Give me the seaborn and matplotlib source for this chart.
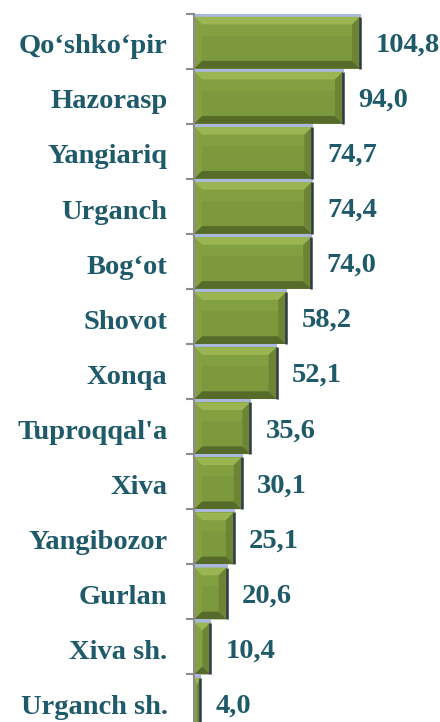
import numpy as np
import pandas as pd
import matplotlib
matplotlib.use("Agg")
import matplotlib.pyplot as plt
from matplotlib.patches import Polygon, Rectangle
from matplotlib.transforms import ScaledTranslation
import seaborn as sns

# data
districts = ["Qo‘shko‘pir", "Hazorasp", "Yangiariq", "Urganch", "Bog‘ot", "Shovot",
             "Xonqa", "Tuproqqal'a", "Xiva", "Yangibozor", "Gurlan", "Xiva sh.",
             "Urganch sh."]
values = [104.8, 94.0, 74.7, 74.4, 74.0, 58.2, 52.1, 35.6, 30.1, 25.1, 20.6, 10.4, 4.0]

df = pd.DataFrame({"district": districts, "value": values})

TEXT = "#1F5A6A"
FACE = "#7D993D"
LIGHT = "#9AB552"
BAND = "#83A041"
SIDE_L = "#84A043"
SIDE_R = "#6C8434"
DARK = "#566B2A"

sns.set_style("white")
plt.rcParams["font.family"] = ["Liberation Serif", "DejaVu Serif"]

fig = plt.figure(figsize=(4.4, 7.22), dpi=100)
ax = fig.add_axes([194 / 440, -7.5 / 722, 1 - 194 / 440, (722 - 13.5 + 7.5) / 722])

sns.barplot(data=df, y="district", x="value", orient="h", color=FACE,
            width=1.0, saturation=1, edgecolor="none", ax=ax)

ax.set_xlim(0, 155.3)
ax.set_ylim(len(districts) - 0.5, -0.5)

# bevel effect on each bar
for p in ax.patches[:]:
    x0, y0, w, h = p.get_x(), p.get_y(), p.get_width(), p.get_height()
    y0 = y0 + 0.06  # light-blue strip above each bar
    x1, y1 = x0 + w, y0 + h - 0.06
    bx = min(5.0, w / 2)
    by = 0.14
    ax.add_patch(Rectangle((x0, p.get_y()), w + 0.6, 0.06, color="#AAB9DB", lw=0, zorder=3))
    ax.add_patch(Rectangle((x0 + bx, y0 + by), w - 2 * bx, 0.2,
                           color=BAND, lw=0, zorder=3))
    ax.add_patch(Polygon([(x0, y0), (x1, y0), (x1 - bx, y0 + by), (x0 + bx, y0 + by)],
                         closed=True, color=LIGHT, lw=0, zorder=3))
    ax.add_patch(Polygon([(x0, y1), (x1, y1), (x1 - bx, y1 - by), (x0 + bx, y1 - by)],
                         closed=True, color=DARK, lw=0, zorder=3))
    ax.add_patch(Polygon([(x0, y0), (x0 + bx, y0 + by), (x0 + bx, y1 - by), (x0, y1)],
                         closed=True, color=SIDE_L, lw=0, zorder=3))
    ax.add_patch(Polygon([(x1, y0), (x1 - bx, y0 + by), (x1 - bx, y1 - by), (x1, y1)],
                         closed=True, color=SIDE_R, lw=0, zorder=3))
    ax.plot([x1, x1], [y0, y1], color="#2E3A48", lw=1.8, zorder=4, solid_capstyle="butt")

for i, v in enumerate(values):
    ax.annotate(f"{v:.1f}".replace(".", ","), xy=(v, i), xytext=(11, -3),
                textcoords="offset points", ha="left", va="center",
                fontsize=20.5, fontweight="bold", color=TEXT)

ax.set_xlabel("")
ax.set_ylabel("")
ax.set_xticks([])
for s in ["top", "right", "bottom"]:
    ax.spines[s].set_visible(False)
ax.spines["left"].set_color("#8C8C8C")
ax.spines["left"].set_linewidth(1.5)
ax.spines["left"].set_zorder(5)

ax.set_yticks(np.arange(len(districts)) - 0.5, minor=True)
ax.tick_params(axis="y", which="major", length=0, pad=19, labelsize=20.5,
               labelcolor=TEXT)
ax.tick_params(axis="y", which="minor", length=6, width=1.5, color="#8C8C8C", left=True)
shift = ScaledTranslation(0, -2 / 72, fig.dpi_scale_trans)
for lbl in ax.get_yticklabels():
    lbl.set_fontweight("bold")
    lbl.set_transform(lbl.get_transform() + shift)

fig.savefig("out.png", dpi=100)
